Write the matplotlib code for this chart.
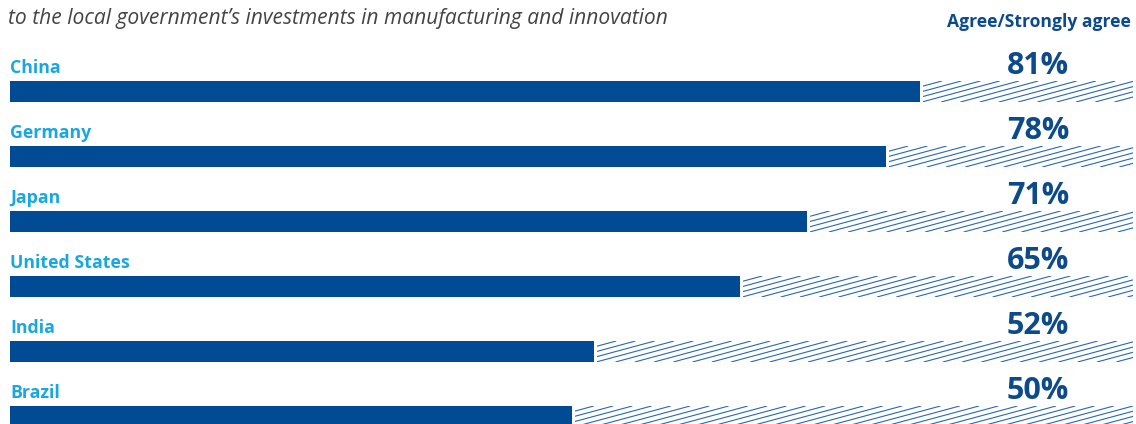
import numpy as np
import matplotlib.pyplot as plt
from matplotlib.patches import Rectangle

countries = ["China", "Germany", "Japan", "United States", "India", "Brazil"]
agree_pct = [81, 78, 71, 65, 52, 50]

subtitle = "to the local government\u2019s investments in manufacturing and innovation"
header = "Agree/Strongly agree"

BAR_BLUE = "#004B93"
TEXT_BLUE = "#0C4A8C"
LABEL_CYAN = "#1AA7E1"
HATCH_BLUE = "#2A68B0"

plt.rcParams["font.family"] = ["Open Sans", "DejaVu Sans"]

W, H = 1136, 424
fig = plt.figure(figsize=(W / 100, H / 100), dpi=100)
ax = fig.add_axes([0, 0, 1, 1])

# x in percent, y in pixel rows (top = 0)
left_px, full_px = 10, 1123
px_per_pct = full_px / 100
ax.set_xlim(-left_px / px_per_pct, (W - left_px) / px_per_pct)
ax.set_ylim(H, 0)
ax.axis("off")

first_top, step, bar_h = 81, 65, 21
gap = 3 / px_per_pct
slope = 0.27          # hatch rise per pixel run
line_gap = 5.2        # vertical spacing between hatch lines, px

for i, (name, v) in enumerate(zip(countries, agree_pct)):
    top = first_top + i * step
    ax.add_patch(Rectangle((0, top), v, bar_h, color=BAR_BLUE, lw=0))

    # hatched remainder up to 100%
    x0 = v + gap
    clip = Rectangle((x0, top), 100 - x0, bar_h, fill=False, lw=0)
    ax.add_patch(clip)
    run = bar_h / slope / px_per_pct
    shift = line_gap / slope / px_per_pct
    for xs in np.arange(x0 - run, 100 + shift, shift):
        ln, = ax.plot([xs, xs + run], [top + bar_h, top], color=HATCH_BLUE,
                      lw=0.8, solid_capstyle="butt")
        ln.set_clip_path(clip)

    ax.text(0, top - 8, name, color=LABEL_CYAN, fontsize=12.8, fontweight="bold",
            va="baseline", ha="left")
    ax.text((1069 - left_px) / px_per_pct, top - 7, f"{v}%", color=TEXT_BLUE,
            fontsize=22, fontweight="bold", va="baseline", ha="right")

ax.text(8 / px_per_pct - left_px / px_per_pct, 24, subtitle, color="#444444",
        fontsize=15.1, style="italic", va="baseline", ha="left")
ax.text((1131 - left_px) / px_per_pct, 27, header, color=TEXT_BLUE,
        fontsize=12.6, fontweight="bold", va="baseline", ha="right")

fig.savefig("out.png", dpi=100)
